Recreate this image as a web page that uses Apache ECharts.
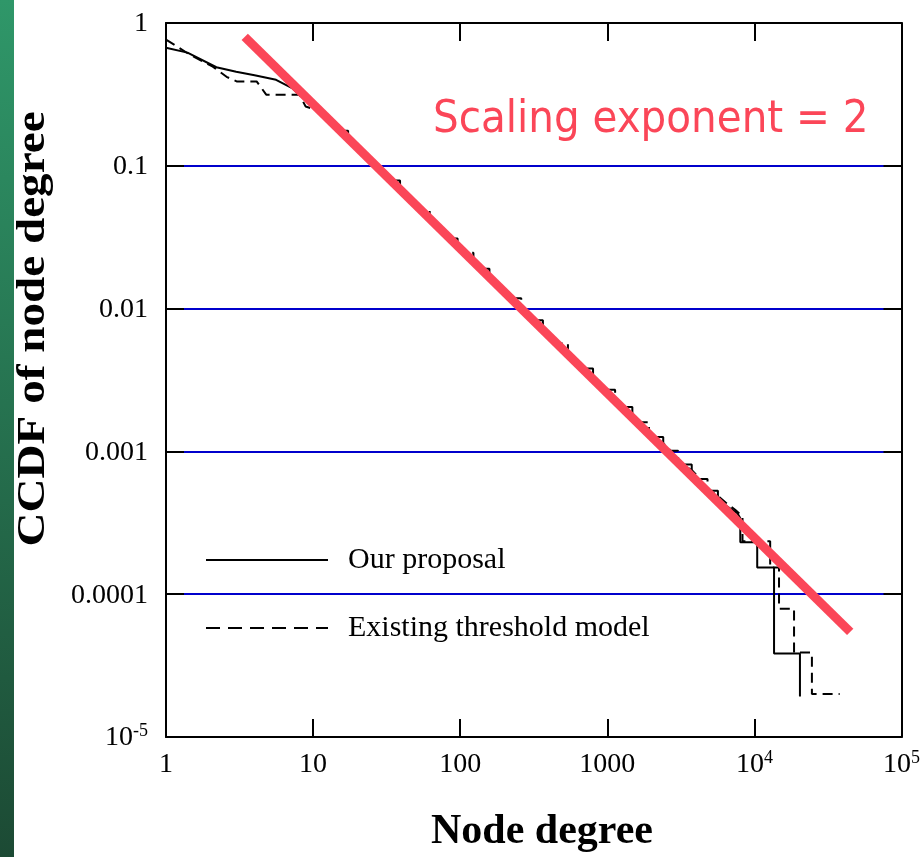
<!DOCTYPE html>
<html>
<head>
<meta charset="utf-8">
<title>CCDF of node degree</title>
<script src="https://cdn.jsdelivr.net/npm/echarts@6/dist/echarts.min.js"></script>
<style>
  html, body { margin: 0; padding: 0; background: #fff; }
  #chart { width: 923px; height: 857px; }
</style>
</head>
<body>
<div id="chart"></div>
<script>
// degree values and CCDF (corners of the staircase included)
const solidDegree = [1, 1.4, 2.2, 3.0, 4.0, 5.6, 7.2, 8.5, 10, 12, 15, 17.3, 17.3, 24, 30, 34, 39, 39, 48, 60, 75, 85, 96, 96, 120, 140, 158, 158, 190, 240, 300, 320, 365, 365, 480, 600, 700, 800, 800, 950, 1200, 1300, 1480, 1480, 1900, 2100, 2400, 2400, 3000, 3300, 3750, 3750, 4400, 5000, 5650, 5650, 6300, 7650, 8020, 8020, 10450, 10450, 13600, 13600, 20400, 20400];
const solidCcdf = [0.67, 0.62, 0.49, 0.455, 0.43, 0.40, 0.35, 0.30, 0.255, 0.216, 0.176, 0.176, 0.146, 0.109, 0.088, 0.079, 0.079, 0.064, 0.055, 0.0445, 0.0352, 0.031, 0.031, 0.0265, 0.0221, 0.019, 0.019, 0.016, 0.0140, 0.0111, 0.0089, 0.0083, 0.0083, 0.0070, 0.0056, 0.0044, 0.0038, 0.0038, 0.0032, 0.0028, 0.00222, 0.00205, 0.00205, 0.00172, 0.00140, 0.00126, 0.00126, 0.00106, 0.00089, 0.00081, 0.00081, 0.00068, 0.00060, 0.00053, 0.00053, 0.00045, 0.00042, 0.00037, 0.00034, 0.000231, 0.000231, 0.000154, 0.000154, 0.0000384, 0.0000384, 0.0000192];

const dashDegree = [1, 1.15, 1.45, 2.08, 2.58, 3.02, 4.13, 4.8, 8.07, 8.9, 10, 12, 15, 19, 23, 26, 26, 30, 38, 48, 55, 62, 62, 75, 95, 110, 123, 123, 150, 190, 230, 260, 260, 300, 380, 480, 540, 540, 600, 760, 950, 1000, 1130, 1130, 1500, 1700, 1920, 1920, 2400, 2700, 3030, 3030, 3800, 4300, 4800, 4800, 5500, 6500, 7400, 8300, 8300, 12800, 12800, 14700, 14700, 18600, 18600, 24600, 24600, 38000];
const dashCcdf = [0.765, 0.70, 0.60, 0.495, 0.42, 0.39, 0.39, 0.315, 0.315, 0.26, 0.25, 0.22, 0.178, 0.142, 0.115, 0.115, 0.098, 0.090, 0.071, 0.056, 0.049, 0.049, 0.042, 0.036, 0.0284, 0.0246, 0.0246, 0.021, 0.0180, 0.0142, 0.0118, 0.0118, 0.0099, 0.0091, 0.0072, 0.0057, 0.0057, 0.0048, 0.0045, 0.0036, 0.00285, 0.0027, 0.0027, 0.0023, 0.00181, 0.0016, 0.0016, 0.00135, 0.00114, 0.00101, 0.00101, 0.00086, 0.00073, 0.00064, 0.00064, 0.00054, 0.00050, 0.00043, 0.00039, 0.00035, 0.000235, 0.000235, 0.000154, 0.000154, 0.000079, 0.000079, 0.000039, 0.000039, 0.00002, 0.00002];

// fitted power law (slope -1 on the CCDF)
const fitDegree = [3.43, 44800];
const fitCcdf = [0.80, 0.0000545];

const xTickLabels = ['1', '10', '100', '1000', '10^4', '10^5'];
const yTickLabels = ['10^-5', '0.0001', '0.001', '0.01', '0.1', '1'];

const seriesNames = ['Our proposal', 'Existing threshold model'];

const SERIF = '"Liberation Serif", "Times New Roman", serif';
const RED = '#fb4658';

function zip(xs, ys) {
  return xs.map((x, i) => [x, ys[i]]);
}

function toRich(label) {
  const parts = label.split('^');
  return parts.length > 1 ? `{b|${parts[0]}}{s|${parts[1]}}` : `{b|${label}}`;
}

const richLabel = {
  b: { fontSize: 28, fontFamily: SERIF, color: '#000', lineHeight: 30, verticalAlign: 'bottom' },
  s: { fontSize: 18, fontFamily: SERIF, color: '#000', lineHeight: 30, verticalAlign: 'top' },
};

const axisLine = { show: true, lineStyle: { color: '#000', width: 2 } };
const axisTick = { show: true, inside: true, length: 18, lineStyle: { color: '#000', width: 2 } };

const chart = echarts.init(document.getElementById('chart'), null, { renderer: 'canvas' });

chart.setOption({
  backgroundColor: '#fff',
  animation: false,
  grid: { left: 166, right: 19, top: 23, bottom: 120, containLabel: false },
  xAxis: [
    {
      type: 'log', logBase: 10, min: 1, max: 100000, interval: 1,
      position: 'bottom',
      axisLine, axisTick,
      minorTick: { show: false },
      splitLine: { show: false },
      axisLabel: {
        margin: 12,
        formatter: (v) => toRich(xTickLabels[Math.round(Math.log10(v))]),
        rich: richLabel,
      },
    },
    {
      type: 'log', logBase: 10, min: 1, max: 100000, interval: 1,
      position: 'top',
      axisLine, axisTick,
      splitLine: { show: false },
      axisLabel: { show: false },
    },
  ],
  yAxis: [
    {
      type: 'log', logBase: 10, min: 0.00001, max: 1, interval: 1,
      position: 'left',
      axisLine, axisTick,
      splitLine: { show: true, showMinLine: false, showMaxLine: false, lineStyle: { color: '#0000cc', width: 2 } },
      axisLabel: {
        margin: 18,
        formatter: (v) => toRich(yTickLabels[Math.round(Math.log10(v)) + 5]),
        rich: richLabel,
      },
    },
    {
      type: 'log', logBase: 10, min: 0.00001, max: 1, interval: 1,
      position: 'right',
      axisLine, axisTick,
      splitLine: { show: false },
      axisLabel: { show: false },
    },
  ],
  legend: {
    orient: 'vertical',
    left: 205,
    top: 545,
    itemWidth: 122,
    itemHeight: 14,
    itemGap: 38,
    padding: 0,
    itemStyle: { opacity: 0 },
    data: [
      { name: seriesNames[0], lineStyle: { type: 'solid', width: 2 } },
      { name: seriesNames[1], lineStyle: { type: [14, 8], width: 2 } },
    ],
    textStyle: { fontFamily: SERIF, fontSize: 30, color: '#000', padding: [0, 0, 0, 15] },
  },
  series: [
    {
      name: seriesNames[0],
      type: 'line',
      data: zip(solidDegree, solidCcdf),
      symbol: 'none',
      lineStyle: { color: '#000', width: 2 },
      itemStyle: { color: '#000' },
      z: 3,
    },
    {
      name: seriesNames[1],
      type: 'line',
      data: zip(dashDegree, dashCcdf),
      symbol: 'none',
      lineStyle: { color: '#000', width: 2, type: [10, 6] },
      itemStyle: { color: '#000' },
      z: 3,
    },
    {
      name: 'fit',
      type: 'line',
      data: zip(fitDegree, fitCcdf),
      symbol: 'none',
      lineStyle: { color: RED, width: 9, cap: 'butt' },
      z: 4,
      silent: true,
    },
  ],
  graphic: [
    {
      type: 'rect',
      left: 0, top: 0,
      shape: { width: 14, height: 857 },
      style: {
        fill: new echarts.graphic.LinearGradient(0, 0, 0, 1, [
          { offset: 0, color: '#2f9769' },
          { offset: 1, color: '#1c4a34' },
        ]),
      },
      silent: true,
    },
    {
      type: 'text',
      x: 33, y: 329,
      rotation: Math.PI / 2,
      scaleX: 1.15,
      style: {
        text: 'CCDF of node degree',
        font: 'bold 41px ' + SERIF,
        fill: '#000',
        textAlign: 'center',
        textVerticalAlign: 'middle',
      },
    },
    {
      type: 'text',
      x: 542, y: 832,
      style: {
        text: 'Node degree',
        font: 'bold 42px ' + SERIF,
        fill: '#000',
        textAlign: 'center',
        textVerticalAlign: 'middle',
      },
    },
    {
      type: 'text',
      x: 433, y: 120,
      style: {
        text: 'Scaling exponent = 2',
        font: '45px "DejaVu Sans Condensed", "DejaVu Sans", sans-serif',
        fill: RED,
        textAlign: 'left',
        textVerticalAlign: 'middle',
      },
    },
  ],
});
</script>
</body>
</html>
